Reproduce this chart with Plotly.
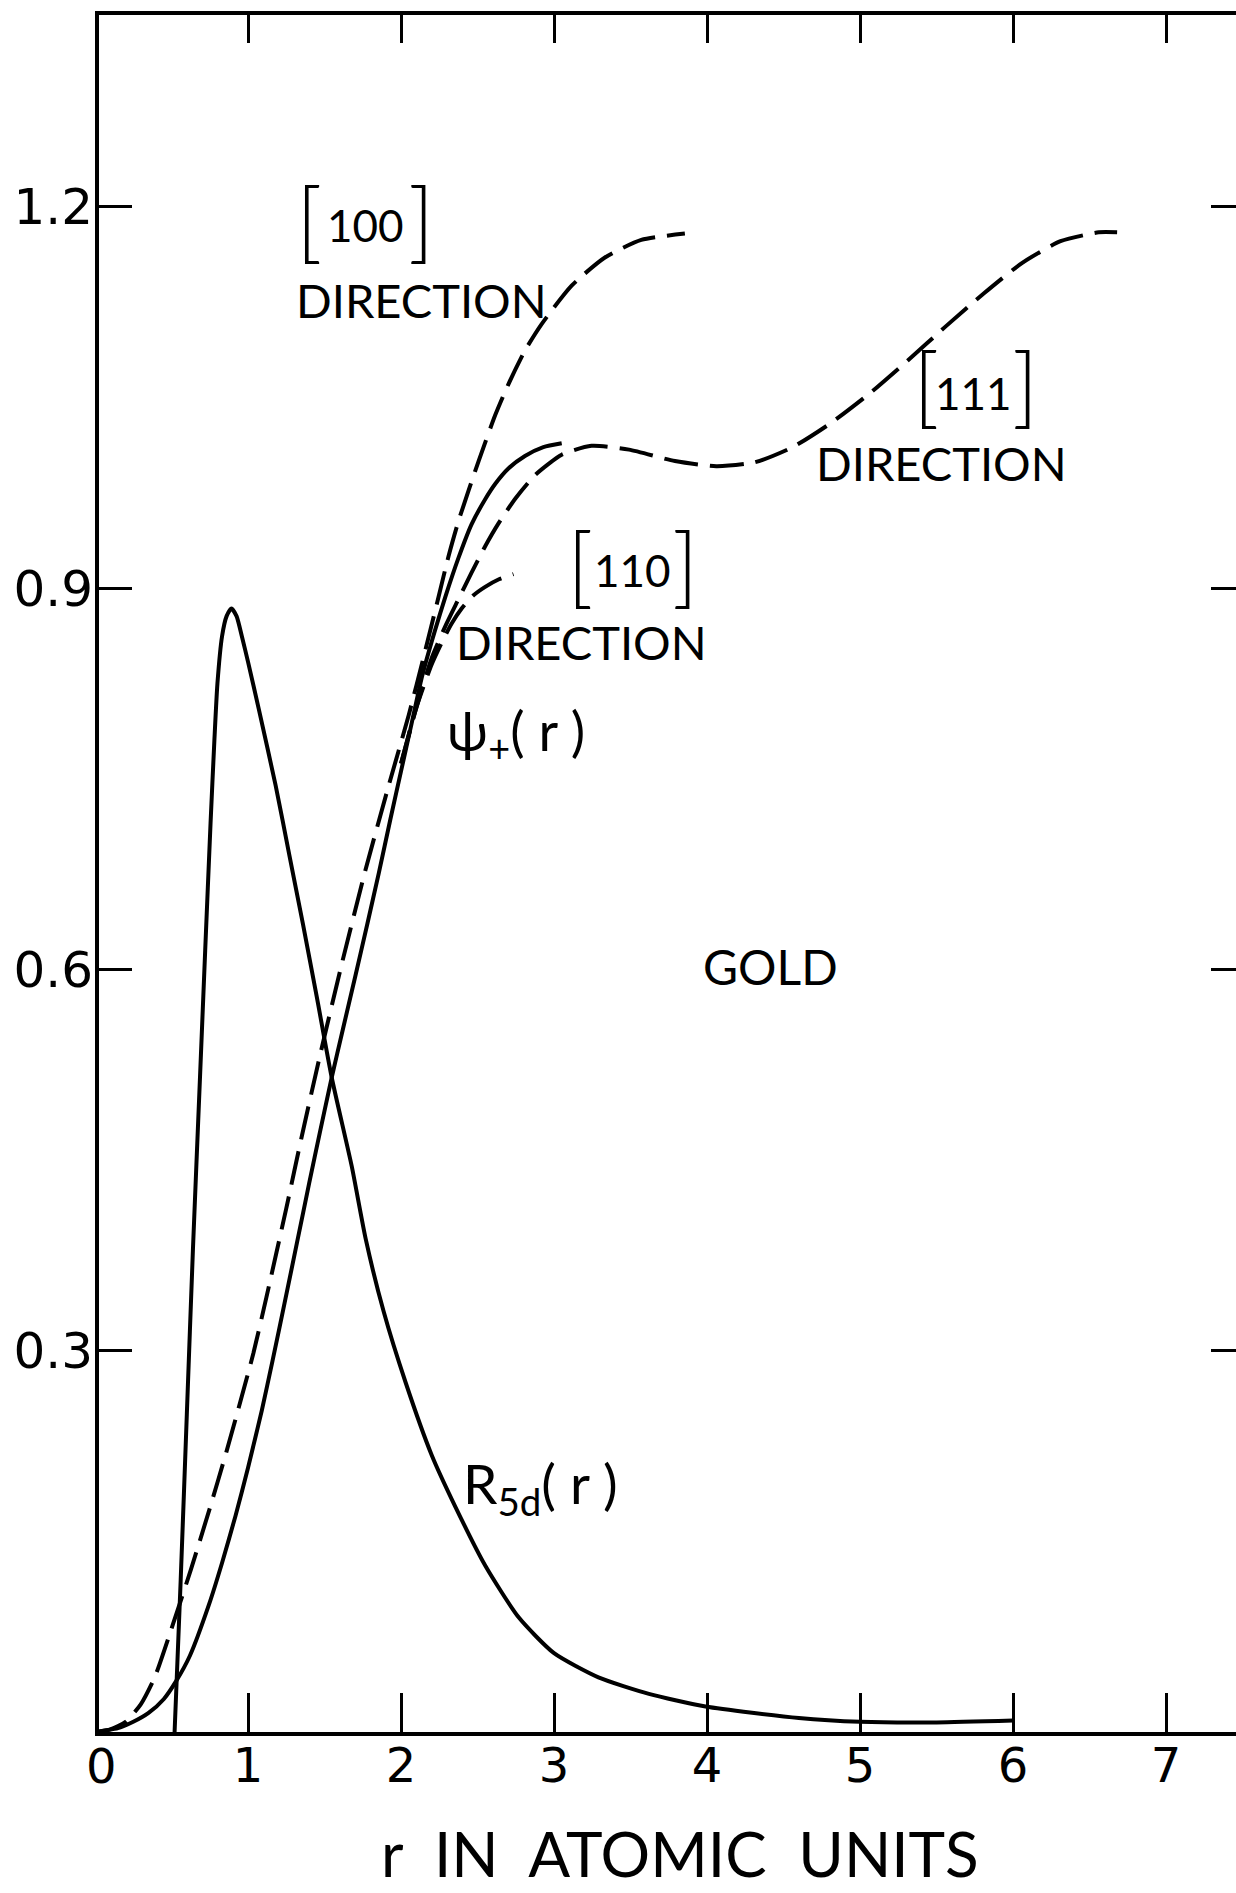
import plotly.graph_objects as go

# Radial 5d wavefunction of gold
r_5d = [0.52, 0.56, 0.60, 0.64, 0.686, 0.72, 0.755, 0.78, 0.80, 0.83, 0.86, 0.892,
        0.925, 0.96, 1.0, 1.07, 1.18, 1.27, 1.36, 1.45, 1.547, 1.678, 1.769, 1.886,
        2.03, 2.20, 2.356, 2.55, 2.77, 3.0, 3.29, 3.62, 3.99, 4.6, 5.0, 5.5, 6.0]
R_5d = [0.0, 0.12, 0.25, 0.38, 0.515, 0.615, 0.715, 0.78, 0.825, 0.862, 0.878, 0.884,
        0.878, 0.862, 0.842, 0.805, 0.745, 0.69, 0.635, 0.578, 0.515, 0.445, 0.388,
        0.331, 0.275, 0.218, 0.177, 0.131, 0.090, 0.062, 0.043, 0.030, 0.020, 0.011,
        0.008, 0.0075, 0.009]

# psi_+(r), spherically averaged
r_psi = [0.0, 0.15, 0.25, 0.35, 0.45, 0.53, 0.62, 0.744, 0.83, 0.918, 1.0, 1.09, 1.16,
         1.238, 1.32, 1.40, 1.47, 1.547, 1.62, 1.70, 1.78, 1.855, 1.93, 2.0, 2.07,
         2.136, 2.22, 2.289, 2.376, 2.46, 2.55, 2.615, 2.70, 2.81, 2.93, 3.05]
psi_plus = [0.0, 0.003, 0.008, 0.015, 0.026, 0.040, 0.060, 0.100, 0.133, 0.170, 0.208,
            0.253, 0.292, 0.337, 0.385, 0.432, 0.472, 0.515, 0.553, 0.594, 0.636, 0.676,
            0.718, 0.756, 0.794, 0.83, 0.866, 0.893, 0.924, 0.95, 0.97, 0.982, 0.994,
            1.004, 1.011, 1.014]

# psi along [100]
r_100 = [0.0, 0.1, 0.2, 0.3, 0.39, 0.51, 0.627, 0.75, 0.86, 0.95, 1.035, 1.12, 1.25,
         1.35, 1.462, 1.612, 1.767, 1.92, 2.05, 2.15, 2.245, 2.31, 2.376, 2.507, 2.615,
         2.70, 2.81, 2.92, 3.115, 3.33, 3.57, 3.855]
psi_100 = [0.0, 0.002, 0.008, 0.022, 0.043, 0.085, 0.128, 0.176, 0.221, 0.26, 0.298,
           0.342, 0.412, 0.468, 0.528, 0.604, 0.678, 0.745, 0.80, 0.847, 0.893, 0.925,
           0.953, 1.0, 1.036, 1.06, 1.087, 1.108, 1.138, 1.16, 1.174, 1.179]

# psi along [111]
r_111 = [2.0, 2.1, 2.2, 2.289, 2.37, 2.46, 2.55, 2.637, 2.75, 2.876, 3.05, 3.245,
         3.49, 3.79, 4.06, 4.31, 4.56, 4.81, 5.06, 5.31, 5.56, 5.81, 6.06, 6.31, 6.56,
         6.68]
psi_111 = [0.762, 0.806, 0.845, 0.87, 0.89, 0.912, 0.933, 0.951, 0.971, 0.989, 1.005,
           1.012, 1.009, 1.0, 0.996, 0.999, 1.011, 1.03, 1.053, 1.079, 1.106, 1.132,
           1.156, 1.173, 1.18, 1.18]

# psi along [110]
r_110 = [2.0, 2.1, 2.2, 2.265, 2.33, 2.396, 2.47, 2.55, 2.64, 2.735]
psi_110 = [0.762, 0.806, 0.84, 0.857, 0.872, 0.884, 0.894, 0.901, 0.907, 0.911]

x_ticks = [1, 2, 3, 4, 5, 6, 7]
x_tick_text = ["1", "2", "3", "4", "5", "6", "7"]
x_origin_text = "0"
y_ticks = [0.3, 0.6, 0.9, 1.2]
y_tick_text = ["0.3", "0.6", "0.9", "1.2"]

FONT = "Lato, 'Noto Sans', 'DejaVu Sans', sans-serif"
NUM_FONT = "'DejaVu Sans', 'Noto Sans', sans-serif"
INK = "black"
X_RANGE = [0.026, 7.457]
Y_RANGE = [0, 1.351]

solid = dict(color=INK, width=4, shape="spline", smoothing=0.6)
dashed = dict(color=INK, width=4, shape="spline", smoothing=0.6, dash="34px,12px")

fig = go.Figure()
fig.add_trace(go.Scatter(x=r_5d, y=R_5d, mode="lines", line=solid, name="R5d"))
fig.add_trace(go.Scatter(x=r_psi, y=psi_plus, mode="lines", line=solid, name="psi+"))
fig.add_trace(go.Scatter(x=r_100, y=psi_100, mode="lines", line=dashed, name="[100]"))
fig.add_trace(go.Scatter(x=r_111, y=psi_111, mode="lines", line=dashed, name="[111]"))
fig.add_trace(go.Scatter(x=r_110, y=psi_110, mode="lines", line=dashed, name="[110]"))
# empty trace so the mirrored top/right axes are drawn
fig.add_trace(go.Scatter(x=[None], y=[None], xaxis="x2", yaxis="y2",
                         mode="lines", hoverinfo="skip"))

# curve labels: (text, x, y, font size, x anchor)
labels = [
    ("[", 1.40, 1.1916, 89, "center"),
    ("100", 1.769, 1.186, 44, "center"),
    ("]", 2.128, 1.1916, 89, "center"),
    ("DIRECTION", 1.301, 1.127, 47, "left"),
    ("[", 5.43, 1.0622, 89, "center"),
    ("111", 5.744, 1.0535, 44, "center"),
    ("]", 6.08, 1.0622, 89, "center"),
    ("DIRECTION", 4.696, 0.9984, 47, "left"),
    ("[", 3.172, 0.9202, 89, "center"),
    ("110", 3.512, 0.914, 44, "center"),
    ("]", 3.858, 0.9202, 89, "center"),
    ("DIRECTION", 2.346, 0.858, 47, "left"),
    ("ψ<sub>+</sub>( r )", 2.29, 0.785, 54, "left"),
    ("GOLD", 4.415, 0.602, 48, "center"),
    ("R<sub>5d</sub>( r )", 2.39, 0.193, 55, "left"),
]
for text, x, y, size, anchor in labels:
    weight = 300 if text in ("[", "]") else 400
    fig.add_annotation(x=x, y=y, text=text, showarrow=False, xanchor=anchor,
                       yanchor="middle",
                       font=dict(family=FONT, size=size, color=INK, weight=weight))

# the origin label sits under the frame corner, so it is placed in paper units
fig.add_annotation(xref="paper", yref="paper", x=0.0026, y=-0.0198,
                   text=x_origin_text, showarrow=False, xanchor="center",
                   yanchor="middle", font=dict(family=NUM_FONT, size=48, color=INK))

fig.add_annotation(xref="paper", yref="paper", x=0.5114, y=-0.0932,
                   text="r&nbsp; IN&nbsp; ATOMIC&nbsp; UNITS", showarrow=False,
                   xanchor="center", yanchor="bottom",
                   font=dict(family=FONT, size=62, color=INK))

axis_common = dict(showgrid=False, zeroline=False, ticks="inside", tickcolor=INK,
                   tickwidth=3, linecolor=INK)

fig.update_layout(
    width=1236, height=1893,
    margin=dict(l=99, r=0, t=15, b=161),
    paper_bgcolor="white", plot_bgcolor="white",
    showlegend=False,
    font=dict(family=FONT, color=INK),
    xaxis=dict(range=X_RANGE, tickvals=x_ticks, ticktext=x_tick_text, ticklen=39,
               showline=True, linewidth=4, tickfont=dict(size=48, family=NUM_FONT),
               ticklabelstandoff=-12, **axis_common),
    xaxis2=dict(range=X_RANGE, overlaying="x", side="top", anchor="y",
                tickvals=x_ticks, ticklen=28, showline=True, linewidth=4,
                showticklabels=False, **axis_common),
    yaxis=dict(range=Y_RANGE, tickvals=y_ticks, ticktext=y_tick_text, ticklen=33,
               showline=True, linewidth=4, tickfont=dict(size=50, family=NUM_FONT),
               ticklabelstandoff=-8, **axis_common),
    yaxis2=dict(range=Y_RANGE, overlaying="y", side="right", anchor="x",
                tickvals=y_ticks, ticklen=25, showline=False, showticklabels=False,
                **axis_common),
)

fig.write_html("out.html")
